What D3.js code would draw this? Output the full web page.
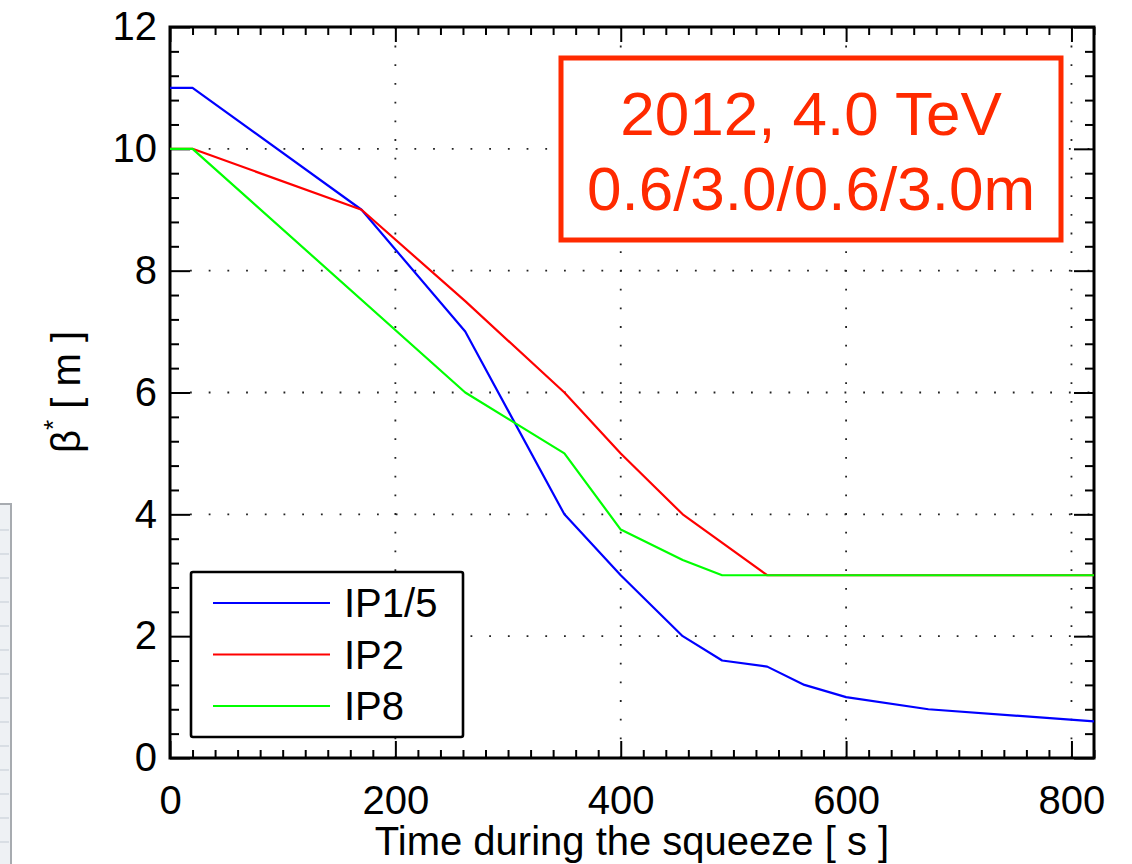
<!DOCTYPE html>
<html>
<head>
<meta charset="utf-8">
<script src="https://cdn.jsdelivr.net/npm/d3@7"></script>
<style>
  body { margin: 0; background: #fff; }
  svg { display: block; font-family: "Liberation Sans", Arial, sans-serif; }
  .tick text { font-size: 40px; fill: #000; }
</style>
</head>
<body>
<svg id="chart" width="1132" height="864"></svg>
<script>
// Series (time in s, beta* in m)
const timeIP15 = [0, 20, 170, 262, 350, 400, 455, 490, 530, 563, 600, 673, 820];
const betaIP15 = [11, 11, 9, 7, 4, 3, 2, 1.6, 1.5, 1.2, 1.0, 0.8, 0.6];
const timeIP2 = [0, 20, 170, 262, 350, 400, 455, 530, 820];
const betaIP2 = [10, 10, 9, 7.5, 6, 5, 4, 3, 3];
const timeIP8 = [0, 20, 262, 350, 400, 455, 490, 820];
const betaIP8 = [10, 10, 6, 5, 3.75, 3.25, 3, 3];

const seriesNames = ["IP1/5", "IP2", "IP8"];
const seriesColors = ["#0000ff", "#ff0000", "#00ff00"];
const xTicks = [0, 200, 400, 600, 800];
const yTicks = [0, 2, 4, 6, 8, 10, 12];
const annotation = ["2012, 4.0 TeV", "0.6/3.0/0.6/3.0m"];

const svg = d3.select("#chart");

const xScale = d3.scaleLinear().domain([0, 820]).range([170, 1094]);
const yScale = d3.scaleLinear().domain([0, 12]).range([758, 27]);

// Screenshot remnant at left edge
const strip = svg.append("g");
strip.append("rect")
    .attr("x", -2).attr("y", 504).attr("width", 13).attr("height", 362)
    .attr("fill", "#eef1f4").attr("stroke", "#a7abb0").attr("stroke-width", 2);
d3.range(530, 864, 24).forEach(yy => {
    strip.append("line")
        .attr("x1", 0).attr("x2", 9).attr("y1", yy).attr("y2", yy)
        .attr("stroke", "#c3cbd4").attr("stroke-width", 1);
});

// Dotted grid
const grid = svg.append("g").attr("stroke", "#222").attr("stroke-width", 1.8)
    .attr("stroke-dasharray", "1.8,16.9");
xTicks.filter(d => d > 0).forEach(d => {
    grid.append("line")
        .attr("x1", xScale(d)).attr("x2", xScale(d))
        .attr("y1", yScale(0)).attr("y2", yScale(12));
});
yTicks.filter(d => d > 0 && d < 12).forEach(d => {
    grid.append("line")
        .attr("x1", xScale(0) + 20).attr("x2", xScale(820))
        .attr("y1", yScale(d)).attr("y2", yScale(d));
});

// Minor tick positions
const xMinor = d3.range(0, 821, 20).filter(d => d % 200 !== 0);
const yMinor = d3.range(0, 31).filter(i => i % 5 !== 0).map(i => i * 0.4);

const styleAxis = g => {
    g.select(".domain").remove();
    g.selectAll(".tick line").attr("stroke", "#000").attr("stroke-width", 2);
};

// Bottom
svg.append("g").attr("transform", `translate(0,${yScale(0)})`)
    .call(d3.axisBottom(xScale).tickValues(xTicks).tickSize(-17).tickSizeOuter(0).tickPadding(28))
    .call(styleAxis);
svg.append("g").attr("transform", `translate(0,${yScale(0)})`)
    .call(d3.axisBottom(xScale).tickValues(xMinor).tickSize(-8).tickFormat(""))
    .call(styleAxis);
// Top
svg.append("g").attr("transform", `translate(0,${yScale(12)})`)
    .call(d3.axisTop(xScale).tickValues(xTicks).tickSize(-15).tickFormat(""))
    .call(styleAxis);
svg.append("g").attr("transform", `translate(0,${yScale(12)})`)
    .call(d3.axisTop(xScale).tickValues(xMinor).tickSize(-8).tickFormat(""))
    .call(styleAxis);
// Left
svg.append("g").attr("transform", `translate(${xScale(0)},0)`)
    .call(d3.axisLeft(yScale).tickValues(yTicks).tickSize(-20).tickPadding(13))
    .call(styleAxis);
svg.append("g").attr("transform", `translate(${xScale(0)},0)`)
    .call(d3.axisLeft(yScale).tickValues(yMinor).tickSize(-9).tickFormat(""))
    .call(styleAxis);
// Right
svg.append("g").attr("transform", `translate(${xScale(820)},0)`)
    .call(d3.axisRight(yScale).tickValues(yTicks).tickSize(-20).tickFormat(""))
    .call(styleAxis);
svg.append("g").attr("transform", `translate(${xScale(820)},0)`)
    .call(d3.axisRight(yScale).tickValues(yMinor).tickSize(-9).tickFormat(""))
    .call(styleAxis);

// Frame
svg.append("rect")
    .attr("x", xScale(0)).attr("y", yScale(12))
    .attr("width", xScale(820) - xScale(0)).attr("height", yScale(0) - yScale(12))
    .attr("fill", "none").attr("stroke", "#000").attr("stroke-width", 3);

// Lines (IP8 drawn last, it sits on top of IP2 at the 3 m plateau)
const line = d3.line().x(d => xScale(d[0])).y(d => yScale(d[1]));
const series = [
    d3.zip(timeIP15, betaIP15),
    d3.zip(timeIP2, betaIP2),
    d3.zip(timeIP8, betaIP8)
];
series.forEach((s, i) => {
    svg.append("path")
        .datum(s)
        .attr("d", line)
        .attr("fill", "none")
        .attr("stroke", seriesColors[i])
        .attr("stroke-width", 2.2)
        .attr("stroke-linejoin", "round");
});

// Legend
const legend = svg.append("g");
legend.append("rect")
    .attr("x", 191).attr("y", 572).attr("width", 272).attr("height", 165)
    .attr("rx", 2)
    .attr("fill", "#fff").attr("stroke", "#000").attr("stroke-width", 2.6);
seriesNames.forEach((name, i) => {
    const ly = 603 + i * 51.5;
    legend.append("line")
        .attr("x1", 213).attr("x2", 330).attr("y1", ly).attr("y2", ly)
        .attr("stroke", seriesColors[i]).attr("stroke-width", 2);
    legend.append("text")
        .attr("x", 344).attr("y", ly).attr("dy", "0.36em")
        .attr("font-size", 40)
        .text(name);
});

// Annotation box
const note = svg.append("g");
note.append("rect")
    .attr("x", 561).attr("y", 58).attr("width", 500).attr("height", 182)
    .attr("fill", "#fff").attr("stroke", "#ff2a00").attr("stroke-width", 5);
annotation.forEach((t, i) => {
    note.append("text")
        .attr("x", 811).attr("y", 135 + i * 75)
        .attr("text-anchor", "middle")
        .attr("font-size", 62)
        .attr("fill", "#ff2a00")
        .text(t);
});

// Axis titles
svg.append("text")
    .attr("x", 632).attr("y", 855)
    .attr("text-anchor", "middle")
    .attr("font-size", 40)
    .text("Time during the squeeze [ s ]");

const yTitle = svg.append("text")
    .attr("transform", "translate(80,392) rotate(-90)")
    .attr("text-anchor", "middle")
    .attr("font-size", 40);
yTitle.append("tspan").text("β");
yTitle.append("tspan").attr("font-size", 26).attr("dy", -18).text("*");
yTitle.append("tspan").attr("dy", 18).text(" [ m ]");
</script>
</body>
</html>
